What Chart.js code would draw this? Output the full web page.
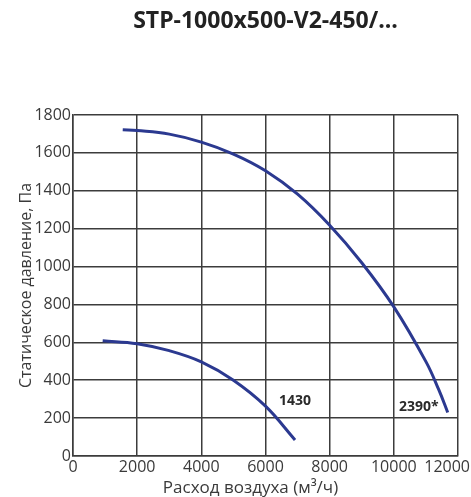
<!DOCTYPE html>
<html>
<head>
<meta charset="utf-8">
<script src="https://cdn.jsdelivr.net/npm/chart.js@4/dist/chart.umd.min.js"></script>
<style>
  html, body { margin: 0; padding: 0; background: #ffffff; }
  canvas { display: block; }
</style>
</head>
<body>
<canvas id="c" width="471" height="497"></canvas>
<script>
// ---- data ----
const chartTitle = 'STP-1000x500-V2-450/...';
const xAxisTitle = 'Расход воздуха (м³/ч)';
const yAxisTitle = 'Статическое давление, Па';

const seriesNames = ['2390*', '1430'];

const flow2390 = [1550, 2000, 3000, 4000, 5000, 6000, 7000, 8000, 9000, 10000, 11000, 11400, 11680];
const pres2390 = [1722, 1718, 1699, 1657, 1594, 1506, 1382, 1218, 1020, 787, 498, 350, 230];

const flow1430 = [925, 2000, 3000, 4000, 5000, 6000, 6920];
const pres1430 = [608, 593, 556, 497, 400, 263, 85];

const xMin = 0, xMax = 12000, xStep = 2000;
const yMin = 0, yMax = 1800, yStep = 200;

// ---- build ----
const toPoints = (xs, ys) => xs.map((x, i) => ({ x: x, y: ys[i] }));
const curveColor = '#2b3990';
const gridColor = '#3c3c3c';
const textColor = '#3a3a3a';

const curveLabels = {
  id: 'curveLabels',
  beforeDraw(chart) {
    const xs = chart.scales.x;
    const items = xs.getLabelItems(chart.chartArea);
    if (items && items.length) {
      const last = items[items.length - 1];
      last.options.textAlign = 'right';
      last.options.translation[0] = chart.width - 1;
    }
    if (!xs._titleShifted) {
      const orig = xs.drawTitle;
      xs.drawTitle = function () {
        const ctx = this.ctx;
        ctx.save();
        ctx.translate(-15, 0);
        orig.apply(this, arguments);
        ctx.restore();
      };
      xs._titleShifted = true;
    }
  },
  afterDatasetsDraw(chart) {
    const ctx = chart.ctx;
    ctx.save();
    ctx.font = 'bold 14px "Open Sans"';
    ctx.fillStyle = '#2a2a2a';
    ctx.textBaseline = 'middle';
    ctx.textAlign = 'center';
    const offs = [[-29, -5], [0, -39]];
    chart.data.datasets.forEach((ds, i) => {
      const meta = chart.getDatasetMeta(i);
      const p = meta.data[meta.data.length - 1];
      ctx.fillText(seriesNames[i], p.x + offs[i][0], p.y + offs[i][1]);
    });
    ctx.restore();
  }
};

const plain = (v) => String(v);

new Chart(document.getElementById('c'), {
  type: 'scatter',
  data: {
    datasets: [
      { label: seriesNames[0], data: toPoints(flow2390, pres2390) },
      { label: seriesNames[1], data: toPoints(flow1430, pres1430) }
    ]
  },
  options: {
    responsive: false,
    devicePixelRatio: 1,
    animation: false,
    layout: { padding: { left: 0, right: 13, top: 0, bottom: 0 } },
    elements: {
      point: { radius: 0, hoverRadius: 0 },
      line: { borderColor: curveColor, borderWidth: 3, tension: 0.4, fill: false, borderCapStyle: 'butt' }
    },
    datasets: { scatter: { showLine: true, borderColor: curveColor, backgroundColor: curveColor } },
    plugins: {
      legend: { display: false },
      tooltip: { enabled: false },
      title: {
        display: true,
        text: chartTitle,
        fullSize: false,
        color: '#222222',
        font: { family: '"Open Sans"', size: 23, weight: 'bold', lineHeight: 1.1 },
        padding: { top: 9, bottom: 80.7 }
      }
    },
    scales: {
      x: {
        type: 'linear',
        min: xMin, max: xMax,
        border: { display: true, color: gridColor, width: 1.5 },
        grid: { color: gridColor, lineWidth: 1.5, drawTicks: false },
        ticks: {
          stepSize: xStep, padding: 2, color: textColor, maxRotation: 0,
          callback: plain,
          font: { family: '"Open Sans"', size: 16, lineHeight: 1.2 }
        },
        title: {
          display: true, text: xAxisTitle, color: textColor,
          font: { family: '"Open Sans"', size: 17, lineHeight: 1.0 },
          padding: { top: 0, bottom: 0 }
        },
        afterFit(scale) { scale.height = 41; scale.paddingRight = 0; scale.paddingLeft = 0; }
      },
      y: {
        type: 'linear',
        min: yMin, max: yMax,
        border: { display: true, color: gridColor, width: 1.5 },
        grid: { color: gridColor, lineWidth: 1.5, drawTicks: false },
        ticks: {
          stepSize: yStep, padding: 2, color: textColor,
          callback: plain,
          font: { family: '"Open Sans"', size: 16, lineHeight: 1.2 }
        },
        title: {
          display: true, text: yAxisTitle, color: textColor,
          font: { family: '"Open Sans"', size: 16, lineHeight: 1.2 },
          padding: { top: 17, bottom: 17 }
        },
        afterFit(scale) { scale.width = 73; scale.paddingTop = 0; scale.paddingBottom = 0; }
      }
    }
  },
  plugins: [curveLabels]
});
</script>
</body>
</html>
